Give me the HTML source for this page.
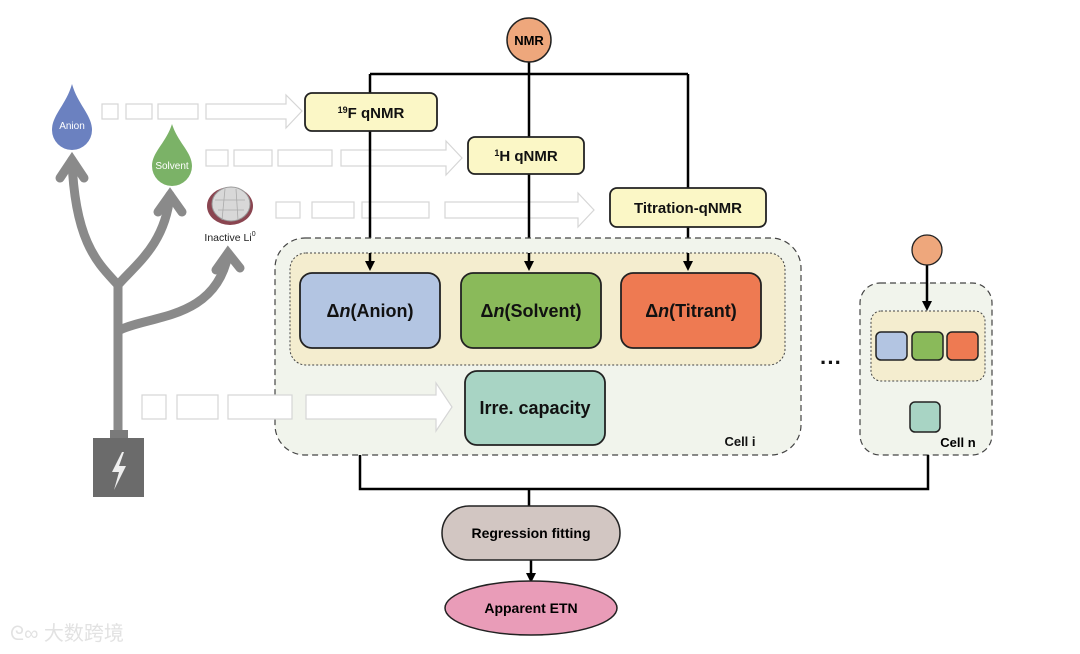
<!DOCTYPE html>
<html><head><meta charset="utf-8"><style>
html,body{margin:0;padding:0;background:#fff;width:1080px;height:654px;overflow:hidden}
svg{display:block}
text{font-family:"Liberation Sans",Arial,sans-serif}
</style></head><body>
<svg width="1080" height="654" viewBox="0 0 1080 654" xmlns="http://www.w3.org/2000/svg">
<!-- tree -->
<g fill="none" stroke="#8a8a8a" stroke-width="9" stroke-linecap="round">
<path d="M118,440 L118,285 C100,265 75,245 72,160"/>
<path d="M118,285 C135,265 165,245 170,195"/>
<path d="M120,330 C150,315 215,320 228,255"/>
<path d="M60,178 L72,160 L84,178"/>
<path d="M158,212 L170,195 L182,212"/>
<path d="M216,270 L228,253 L240,268"/>
</g>
<rect x="110" y="430" width="18" height="14" fill="#7a7a7a"/>
<rect x="93" y="438" width="51" height="59" fill="#6b6b6b"/>
<path d="M122,452 L112,472 L119,472 L114,490 L126,466 L119,466 L124,452 Z" fill="#eee"/>
<!-- drops -->
<path d="M72,84 C78,105 92,115 92,130 A20,20 0 0 1 52,130 C52,115 66,105 72,84 Z" fill="#6b81c0"/>
<text x="72" y="129" font-size="10" fill="#fff" text-anchor="middle">Anion</text>
<path d="M172,124 C178,143 192,152 192,166 A20,20 0 0 1 152,166 C152,152 166,143 172,124 Z" fill="#7bb267"/>
<text x="172" y="169" font-size="10" fill="#fff" text-anchor="middle">Solvent</text>
<ellipse cx="230" cy="206" rx="23" ry="19" fill="#8a4550"/>
<ellipse cx="231" cy="204" rx="19" ry="17" fill="#d8d8d8" stroke="#999"/>
<path d="M215,200 L245,200 M218,210 L244,210 M225,189 L222,220 M236,189 L238,220" stroke="#aaa" stroke-width="0.8"/>
<text x="230" y="241" font-size="10.5" fill="#222" text-anchor="middle">Inactive Li<tspan dy="-5" font-size="7">0</tspan></text>
<!-- light arrows -->
<g fill="#fff" stroke="#d6d6d6" stroke-width="1.2">
<rect x="102" y="104" width="16" height="15"/><rect x="126" y="104" width="26" height="15"/><rect x="158" y="104" width="40" height="15"/>
<path d="M206,104 L286,104 L286,95 L302,111 L286,128 L286,119 L206,119 Z"/>
<rect x="206" y="150" width="22" height="16"/><rect x="234" y="150" width="38" height="16"/><rect x="278" y="150" width="54" height="16"/>
<path d="M341,150 L446,150 L446,141 L462,158 L446,175 L446,166 L341,166 Z"/>
<rect x="276" y="202" width="24" height="16"/><rect x="312" y="202" width="42" height="16"/><rect x="362" y="202" width="67" height="16"/>
<path d="M445,202 L578,202 L578,193 L594,210 L578,227 L578,218 L445,218 Z"/>
</g>
<!-- NMR -->
<g stroke="#000" stroke-width="2.5" fill="none">
<path d="M529,60 L529,74 M370,74 L688,74"/>
<path d="M370,74 L370,262"/>
<path d="M529,74 L529,262"/>
<path d="M688,74 L688,262"/>
</g>
<circle cx="529" cy="40" r="22" fill="#eea77c" stroke="#222" stroke-width="1.5"/>
<text x="529" y="45" font-size="13" font-weight="bold" text-anchor="middle">NMR</text>
<!-- cell i -->
<rect x="275" y="238" width="526" height="217" rx="30" fill="#f1f4ec" stroke="#444" stroke-width="1.2" stroke-dasharray="6,4"/>
<rect x="290" y="253" width="495" height="112" rx="16" fill="#f4edcf" stroke="#444" stroke-width="1" stroke-dasharray="2,2"/>
<g stroke="#000" stroke-width="2.5" fill="none">
<path d="M370,253 L370,262 M529,253 L529,262 M688,253 L688,262"/>
</g>
<g fill="#000">
<path d="M365,261 L375,261 L370,271 Z"/>
<path d="M524,261 L534,261 L529,271 Z"/>
<path d="M683,261 L693,261 L688,271 Z"/>
</g>
<g fill="#fff" stroke="#d6d6d6" stroke-width="1.2">
<rect x="142" y="395" width="24" height="24"/><rect x="177" y="395" width="41" height="24"/><rect x="228" y="395" width="64" height="24"/>
<path d="M306,395 L436,395 L436,383 L452,407 L436,431 L436,419 L306,419 Z"/>
</g>
<!-- boxes with text -->
<g stroke="#222" stroke-width="1.8">
<rect x="305" y="93" width="132" height="38" rx="7" fill="#fbf7c6"/>
<rect x="468" y="137" width="116" height="37" rx="7" fill="#fbf7c6"/>
<rect x="610" y="188" width="156" height="39" rx="7" fill="#fbf7c6"/>
<rect x="300" y="273" width="140" height="75" rx="12" fill="#b3c5e2"/>
<rect x="461" y="273" width="140" height="75" rx="12" fill="#8aba5a"/>
<rect x="621" y="273" width="140" height="75" rx="12" fill="#ee7a52"/>
<rect x="465" y="371" width="140" height="74" rx="12" fill="#a8d4c4"/>
</g>
<g font-weight="bold" text-anchor="middle" fill="#111">
<text x="371" y="118" font-size="15"><tspan font-size="9" dy="-5">19</tspan><tspan dy="5">F qNMR</tspan></text>
<text x="526" y="161" font-size="15"><tspan font-size="9" dy="-5">1</tspan><tspan dy="5">H qNMR</tspan></text>
<text x="688" y="213" font-size="15">Titration-qNMR</text>
<text x="370" y="317" font-size="18">Δ<tspan font-style="italic">n</tspan>(Anion)</text>
<text x="531" y="317" font-size="18">Δ<tspan font-style="italic">n</tspan>(Solvent)</text>
<text x="691" y="317" font-size="18">Δ<tspan font-style="italic">n</tspan>(Titrant)</text>
<text x="535" y="414" font-size="18">Irre. capacity</text>
<text x="740" y="446" font-size="13">Cell i</text>
<text x="831" y="370" font-size="22">···</text>
</g>
<!-- cell n -->
<rect x="860" y="283" width="132" height="172" rx="20" fill="#f1f4ec" stroke="#444" stroke-width="1.2" stroke-dasharray="6,4"/>
<rect x="871" y="311" width="114" height="70" rx="10" fill="#f4edcf" stroke="#444" stroke-width="1" stroke-dasharray="2,2"/>
<path d="M927,265 L927,302" stroke="#000" stroke-width="2.5"/>
<path d="M922,301 L932,301 L927,311 Z" fill="#000"/>
<circle cx="927" cy="250" r="15" fill="#eea77c" stroke="#222" stroke-width="1.3"/>
<g stroke="#222" stroke-width="1.5">
<rect x="876" y="332" width="31" height="28" rx="5" fill="#b3c5e2"/>
<rect x="912" y="332" width="31" height="28" rx="5" fill="#8aba5a"/>
<rect x="947" y="332" width="31" height="28" rx="5" fill="#ee7a52"/>
<rect x="910" y="402" width="30" height="30" rx="5" fill="#a8d4c4"/>
</g>
<text x="958" y="447" font-size="13" font-weight="bold" text-anchor="middle">Cell n</text>
<!-- bottom -->
<g stroke="#000" stroke-width="2.5" fill="none">
<path d="M360,455 L360,489 L928,489 L928,455 M529,489 L529,506"/>
<path d="M531,560 L531,574"/>
</g>
<path d="M526,573 L536,573 L531,583 Z" fill="#000"/>
<rect x="442" y="506" width="178" height="54" rx="27" fill="#d2c6c2" stroke="#222" stroke-width="1.5"/>
<text x="531" y="538" font-size="14" font-weight="bold" text-anchor="middle">Regression fitting</text>
<ellipse cx="531" cy="608" rx="86" ry="27" fill="#e99cb8" stroke="#222" stroke-width="1.5"/>
<text x="531" y="613" font-size="14" font-weight="bold" text-anchor="middle">Apparent ETN</text>
<!-- watermark -->
<text x="10" y="640" font-size="20" fill="#e2e2e2" font-family="'Liberation Sans','Noto Sans CJK SC',sans-serif">ᘓ∞ 大数跨境</text>
</svg>
</body></html>
